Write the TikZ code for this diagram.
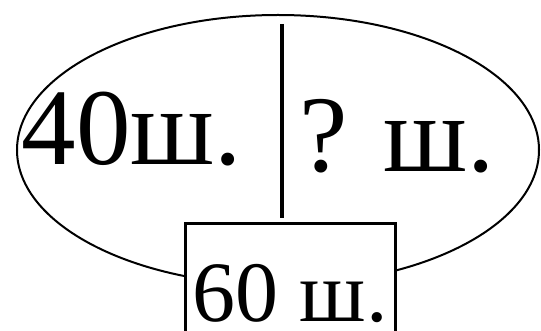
\documentclass[tikz,border=0pt]{standalone}
\usepackage{fontspec}
\setmainfont{Liberation Serif}
\usepackage{tikz}
\usetikzlibrary{positioning}

\begin{document}
\begin{tikzpicture}[x=1pt, y=-1pt,
  part/.style={inner sep=0pt, anchor=base, font=\fontsize{109}{120}\selectfont},
  total/.style={draw, line width=3pt, fill=white, anchor=north, minimum width=210pt, inner xsep=0pt, inner ysep=0pt, text height=98pt, text depth=12pt, font=\fontsize{86}{96}\selectfont},
  split/.style={line width=4.5pt}]
 \useasboundingbox (0,0) rectangle (541,331);
 \draw[line width=2pt] (278,150) ellipse [x radius=261, y radius=135];
 \coordinate (top) at (282,24);
 \coordinate (bot) at (282,218);
 \draw[split] (top) -- (bot);
 \node[part] (known) at (132,165) {40ш.};
 \node[part] (unknown) at (397,172) {? ш.};
 \node[total] (sum) at (290,222) {60 ш.};
\end{tikzpicture}
\end{document}
